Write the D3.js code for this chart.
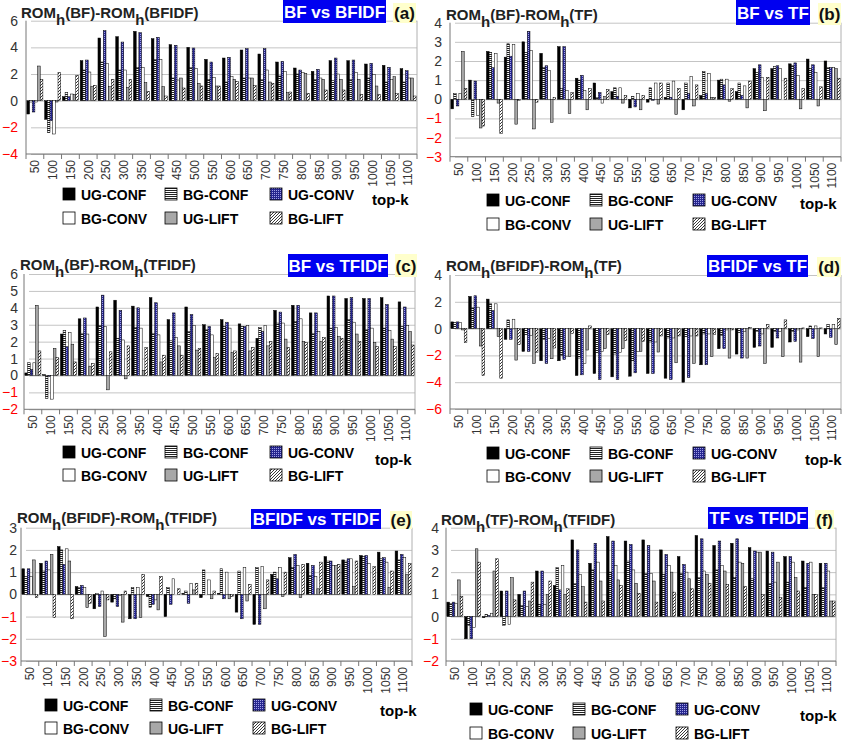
<!DOCTYPE html>
<html><head><meta charset="utf-8">
<script src="https://cdn.jsdelivr.net/npm/d3@7"></script>
<style>body{margin:0;background:#fff} svg{display:block} text{font-family:"Liberation Sans",Arial,sans-serif}</style>
</head><body><svg id="c" width="842" height="742"></svg>
<script>
const CATEGORIES = ["50","100","150","200","250","300","350","400","450","500","550","600","650","700","750","800","850","900","950","1000","1050","1100"];
const SERIES = ["UG-CONF","BG-CONF","UG-CONV","BG-CONV","UG-LIFT","BG-LIFT"];

// (a) ROMh(BF)-ROMh(BFIDF)
const A_UG_CONF = [-1.0,-1.4,0.3,3.0,4.7,4.8,5.2,4.65,4.2,4.0,3.1,3.2,3.8,3.5,2.9,2.45,2.2,3.0,3.0,2.75,2.65,2.4];
const A_BG_CONF = [-0.1,-2.4,0.6,2.3,2.9,2.3,2.5,3.1,1.7,2.5,1.6,1.4,1.7,1.6,1.85,2.0,1.6,1.5,1.6,1.7,1.4,1.4];
const A_UG_CONV = [-0.85,-1.5,0.3,3.05,5.25,4.4,5.1,4.75,4.15,3.95,2.9,3.25,3.9,3.9,2.95,2.3,2.35,3.2,3.05,2.8,2.5,2.25];
const A_BG_CONV = [-0.1,-2.5,0.5,2.15,2.8,2.3,2.5,3.1,1.55,2.4,1.75,1.8,1.7,2.3,2.2,2.1,1.7,2.0,2.1,1.95,1.6,1.7];
const A_UG_LIFT = [2.6,-0.1,0.45,1.05,1.05,1.0,1.35,1.05,1.7,1.3,1.1,1.6,1.7,1.4,0.6,2.05,1.6,1.6,1.6,1.1,1.8,1.7];
const A_BG_LIFT = [1.6,2.1,1.9,1.15,1.6,1.6,0.7,0.35,0.95,1.1,1.1,1.45,1.15,1.3,0.65,0.55,0.8,0.8,0.45,0.45,0.55,0.35];
const A_TICKS = [-4,-2,0,2,4,6];

// (b) ROMh(BF)-ROMh(TF)
const B_UG_CONF = [-0.5,1.0,2.5,2.2,3.0,2.4,2.75,1.1,0.85,0.4,-0.45,-0.15,0.1,-0.55,0.2,1.0,0.4,1.6,1.6,1.85,2.1,2.0];
const B_BG_CONF = [0.3,-0.9,2.45,2.9,2.45,1.65,0.55,1.0,0.1,0.6,0.15,0.6,0.85,0.85,1.45,1.05,0.85,1.4,1.7,1.75,1.6,1.65];
const B_UG_CONV = [-0.35,0.95,1.65,2.25,3.55,1.75,2.75,1.25,0.35,0.15,-0.4,-0.05,0.1,0.3,0.3,0.75,0.2,1.8,1.75,1.9,1.8,1.65];
const B_BG_CONV = [0.3,-0.85,2.4,2.85,2.55,1.5,0.45,0.45,-0.2,0.6,0.3,0.85,0.95,1.2,1.35,1.05,0.7,1.15,1.6,1.25,1.4,1.65];
const B_UG_LIFT = [2.5,-1.5,-0.2,-1.3,-1.55,-1.2,-0.75,-0.55,0.15,-0.2,-0.55,-0.25,-0.8,-0.35,0.1,-0.1,-0.45,-0.6,0.0,-0.5,-0.35,1.6];
const B_BG_LIFT = [0.55,-1.4,-1.8,-0.05,-0.15,0.1,0.35,0.55,0.5,0.2,0.2,0.85,0.55,0.75,0.1,0.55,0.95,1.15,1.1,0.55,0.65,1.1];
const B_TICKS = [-3,-2,-1,0,1,2,3,4];

// (c) ROMh(BF)-ROMh(TFIDF)
const C_UG_CONF = [0.15,0.05,2.45,3.35,4.05,4.45,4.1,4.6,3.3,4.05,3.0,3.3,3.05,2.2,3.85,4.15,3.7,4.7,4.55,4.55,4.6,4.35];
const C_BG_CONF = [0.75,-1.35,2.65,2.5,2.95,2.2,2.85,2.5,2.05,2.6,2.7,2.9,2.9,2.85,3.1,3.2,2.5,2.8,3.3,2.7,2.8,2.9];
const C_UG_CONV = [0.35,-0.05,1.7,3.4,4.75,3.85,4.0,4.3,3.7,3.6,2.9,3.15,2.9,2.6,3.75,4.15,3.7,4.7,4.6,4.55,4.2,4.05];
const C_BG_CONV = [0.75,-1.4,2.55,2.45,2.9,2.1,2.8,2.4,2.25,2.95,2.4,2.8,2.95,2.95,3.1,3.35,2.6,2.85,3.15,2.8,2.65,2.95];
const C_UG_LIFT = [4.15,1.6,1.85,0.55,-0.85,-0.2,0.3,0.8,1.75,1.5,1.05,1.35,1.45,1.75,2.15,2.0,2.0,2.3,2.45,1.95,2.15,2.6];
const C_BG_LIFT = [1.45,1.05,0.8,0.7,1.4,1.75,1.65,1.2,1.2,1.6,1.3,1.45,1.65,2.0,1.65,1.95,2.25,2.2,2.0,1.7,1.7,1.8];
const C_TICKS = [-2,-1,0,1,2,3,4,5,6];

// (d) ROMh(BFIDF)-ROMh(TF)
const D_UG_CONF = [0.5,2.4,2.2,-0.8,-1.7,-2.4,-2.4,-3.5,-3.35,-3.6,-3.55,-3.35,-3.7,-4.0,-2.7,-1.5,-1.9,-1.4,-1.4,-1.0,-0.6,-0.4];
const D_BG_CONF = [0.45,1.55,1.85,0.65,-0.45,-0.8,-2.0,-2.2,-1.8,-1.9,-2.4,-1.0,-0.7,-0.6,-0.4,-0.5,-0.3,-0.2,-0.2,-0.2,0.2,0.3];
const D_UG_CONV = [0.5,2.45,1.35,-0.8,-1.7,-2.6,-2.3,-3.45,-3.8,-3.8,-3.3,-3.35,-3.8,-3.65,-2.7,-1.5,-2.2,-1.3,-0.7,-0.95,-0.75,-0.65];
const D_BG_CONV = [0.45,1.6,1.85,0.7,-0.5,-0.75,-2.05,-2.6,-1.7,-1.8,-1.7,-1.0,-0.7,-0.55,-0.4,-0.1,-0.2,-0.4,-0.2,-0.1,0.2,0.3];
const D_UG_LIFT = [-0.1,-1.3,-0.6,-2.35,-2.6,-2.25,-2.1,-1.6,-1.5,-1.5,-1.7,-1.75,-2.55,-2.6,-2.1,-2.2,-2.2,-2.6,-2.1,-2.5,-2.1,-1.2];
const D_BG_LIFT = [-1.05,-3.5,-3.7,-1.2,-1.8,-1.45,-0.35,0.2,-0.45,-0.9,-0.95,-0.55,-0.55,-0.55,-0.45,-0.1,0.1,0.3,0.65,0.05,0.05,0.75];
const D_TICKS = [-6,-4,-2,0,2,4];

// (e) ROMh(BFIDF)-ROMh(TFIDF)
const E_UG_CONF = [1.15,1.4,2.15,0.35,-0.65,-0.35,-1.1,-0.1,-1.0,0.05,-0.15,0.05,-0.8,-1.35,0.9,1.65,1.4,1.7,1.55,1.75,1.9,1.95];
const E_BG_CONF = [0.8,1.05,2.0,0.3,0.05,-0.2,0.3,-0.6,0.3,0.15,1.1,1.15,1.05,1.2,1.0,1.2,0.85,1.5,1.5,1.7,1.6,1.55];
const E_UG_CONV = [1.15,1.5,1.35,0.4,-0.55,-0.55,-1.1,-0.45,-0.45,-0.4,0.0,-0.2,-1.1,-1.35,0.7,1.8,1.3,1.5,1.6,1.75,1.65,1.8];
const E_BG_CONV = [0.8,1.1,2.05,0.3,0.15,-0.05,0.3,-0.25,0.7,0.5,0.65,1.0,1.2,1.25,1.2,1.3,0.8,1.3,1.6,1.4,1.45,1.65];
const E_UG_LIFT = [1.55,1.8,1.5,-0.6,-1.9,-1.25,-1.05,-0.7,0.0,0.2,-0.2,-0.2,-0.3,-0.65,-0.1,-0.15,0.25,1.3,0.35,0.0,0.3,0.9];
const E_BG_LIFT = [-0.15,-1.05,-1.1,-0.4,-0.25,0.15,0.9,0.8,0.25,0.5,0.15,-0.1,0.45,0.65,1.0,1.35,1.45,1.35,1.5,1.25,1.05,1.4];
const E_TICKS = [-3,-2,-1,0,1,2,3];

// (f) ROMh(TF)-ROMh(TFIDF)
const F_UG_CONF = [0.65,-1.0,-0.05,1.15,1.0,2.05,1.4,3.45,2.4,3.6,3.4,3.45,3.0,2.7,3.65,3.2,3.3,3.1,2.95,2.7,2.5,2.4];
const F_BG_CONF = [0.6,-0.4,0.1,-0.4,0.5,0.55,2.2,1.5,2.1,2.0,2.5,1.95,1.9,1.95,1.75,2.1,1.75,1.7,1.5,1.55,1.3,1.3];
const F_UG_CONV = [0.65,-1.0,0.05,1.15,1.15,2.05,1.2,3.0,3.3,3.4,3.25,3.2,2.8,2.35,3.5,3.4,3.5,2.95,2.9,2.7,2.4,2.4];
const F_BG_CONV = [0.6,-0.5,0.15,-0.35,0.45,0.55,2.3,1.9,2.45,2.3,2.1,1.95,2.3,2.0,2.05,2.3,2.45,2.9,1.55,2.45,2.45,2.05];
const F_UG_LIFT = [1.65,3.05,2.05,1.75,0.7,1.0,1.0,1.35,1.6,1.65,1.5,1.6,2.0,1.7,1.9,2.05,2.4,2.9,2.45,1.75,1.0,0.7];
const F_BG_LIFT = [0.9,2.45,2.6,0.75,1.55,1.6,1.25,0.65,0.7,1.4,1.05,0.65,1.1,1.25,1.5,1.45,1.35,1.0,0.85,1.15,1.0,0.7];
const F_TICKS = [-2,-1,0,1,2,3,4];

const TITLES = [["BF","BFIDF"],["BF","TF"],["BF","TFIDF"],["BFIDF","TF"],["BFIDF","TFIDF"],["TF","TFIDF"]];
const LABELS = ["BF vs BFIDF","BF vs TF","BF vs TFIDF","BFIDF vs TF","BFIDF vs TFIDF","TF vs TFIDF"];
const TAGS = ["(a)","(b)","(c)","(d)","(e)","(f)"];

const PANEL_DATA = [
  [A_UG_CONF,A_BG_CONF,A_UG_CONV,A_BG_CONV,A_UG_LIFT,A_BG_LIFT],
  [B_UG_CONF,B_BG_CONF,B_UG_CONV,B_BG_CONV,B_UG_LIFT,B_BG_LIFT],
  [C_UG_CONF,C_BG_CONF,C_UG_CONV,C_BG_CONV,C_UG_LIFT,C_BG_LIFT],
  [D_UG_CONF,D_BG_CONF,D_UG_CONV,D_BG_CONV,D_UG_LIFT,D_BG_LIFT],
  [E_UG_CONF,E_BG_CONF,E_UG_CONV,E_BG_CONV,E_UG_LIFT,E_BG_LIFT],
  [F_UG_CONF,F_BG_CONF,F_UG_CONV,F_BG_CONV,F_UG_LIFT,F_BG_LIFT]
];
const PANEL_TICKS = [A_TICKS,B_TICKS,C_TICKS,D_TICKS,E_TICKS,F_TICKS];

// layout (positions only)
const LAYOUT = [
 {left:26,right:417,top:20.7,bottom:154,pad:8,titleX:21,titleY:18,box:[283,0,103,23],tag:[393,3,23,20],legX:[63,165,270],legY:[188,212],topk:[372,205]},
 {left:450,right:841,top:22.7,bottom:156.7,pad:8,titleX:446,titleY:20,box:[736,0,74,25],tag:[818,3,23,22],legX:[487,590,693],legY:[194,218],topk:[800,209]},
 {left:24,right:415,top:274,bottom:409.3,pad:6,titleX:20,titleY:270,box:[288,254,100,23],tag:[395,254,22,23],legX:[63,165,270],legY:[446,469],topk:[375,465]},
 {left:450,right:841,top:275,bottom:409,pad:8,titleX:446,titleY:271,box:[707,255,101,22],tag:[817,257,24,20],legX:[487,590,693],legY:[447,470],topk:[805,465]},
 {left:21,right:412,top:527.7,bottom:661,pad:4,titleX:17,titleY:523,box:[251,509,130,20],tag:[390,511,22,18],legX:[45,150,253],legY:[699,722],topk:[380,716]},
 {left:446,right:836,top:527.7,bottom:661,pad:7,titleX:441,titleY:525,box:[708,507,100,22],tag:[815,510,19,19],legX:[470,573,676],legY:[703,727],topk:[800,721]}
];

const svg = d3.select('#c');
const defs = svg.append('defs');
const pS = defs.append('pattern').attr('id','pStripe').attr('patternUnits','userSpaceOnUse').attr('width',4).attr('height',2);
pS.append('rect').attr('width',4).attr('height',2).attr('fill','#fff');
pS.append('rect').attr('width',4).attr('height',1).attr('fill','#222');
const pD = defs.append('pattern').attr('id','pDot').attr('patternUnits','userSpaceOnUse').attr('width',2).attr('height',2);
pD.append('rect').attr('width',2).attr('height',2).attr('fill','#26268f');
pD.append('rect').attr('width',1).attr('height',1).attr('fill','#a0a0e6');
const pH = defs.append('pattern').attr('id','pHatch').attr('patternUnits','userSpaceOnUse').attr('width',3).attr('height',3);
pH.append('rect').attr('width',3).attr('height',3).attr('fill','#fff');
pH.append('path').attr('d','M0,3L3,0M-1,1L1,-1M2,4L4,2').attr('stroke','#222').attr('stroke-width',0.9);

const FILLS = ['#000','url(#pStripe)','url(#pDot)','#fff','#a8a8a8','url(#pHatch)'];
const color = d3.scaleOrdinal().domain(SERIES).range(FILLS);

PANEL_DATA.forEach((series, pi) => {
  const L = LAYOUT[pi];
  const ticks = PANEL_TICKS[pi];
  const g = svg.append('g');
  const PAD = 0.1;
  const x = d3.scaleBand().domain(CATEGORIES).range([L.left, L.right]).paddingInner(PAD).paddingOuter(PAD/2);
  const xs = d3.scaleBand().domain(SERIES).range([0, x.bandwidth()]);
  const y = d3.scaleLinear().domain(d3.extent(ticks)).range([L.bottom, L.top]);

  // gridlines + y labels
  const ya = g.append('g').attr('transform',`translate(${L.left},0)`)
    .call(d3.axisLeft(y).tickValues(ticks).tickSize(-(L.right-L.left)).tickPadding(L.pad).tickFormat(d3.format('d')));
  ya.select('.domain').remove();
  ya.selectAll('.tick line').attr('stroke','#c4c4c4').attr('x1',5);
  ya.selectAll('.tick text').attr('font-size',14).attr('fill', d => d < 0 ? '#ff0000' : '#333');
  // right border, left axis
  g.append('line').attr('x1',L.right).attr('x2',L.right).attr('y1',L.top).attr('y2',L.bottom).attr('stroke','#b0b0b0');
  g.append('line').attr('x1',L.left).attr('x2',L.left).attr('y1',L.top).attr('y2',L.bottom).attr('stroke','#777');

  // bars
  SERIES.forEach((s, si) => {
    g.append('g').selectAll('rect').data(series[si]).join('rect')
      .attr('x', (v,i) => x(CATEGORIES[i]) + xs(s))
      .attr('width', xs.bandwidth())
      .attr('y', v => y(Math.max(0,v)))
      .attr('height', v => Math.abs(y(v) - y(0)))
      .attr('fill', color(s))
      .attr('stroke','#000').attr('stroke-width',0.5);
  });

  // bottom axis
  const step = x.step();
  g.append('line').attr('x1',L.left).attr('x2',L.right).attr('y1',L.bottom).attr('y2',L.bottom).attr('stroke','#777');
  g.append('g').selectAll('line').data(CATEGORIES.concat(['end'])).join('line')
    .attr('x1',(d,i)=>L.left + i*step).attr('x2',(d,i)=>L.left + i*step)
    .attr('y1',L.bottom).attr('y2',L.bottom+5).attr('stroke','#777');
  const xa = g.append('g').attr('transform',`translate(0,${L.bottom})`).call(d3.axisBottom(x).tickSize(0));
  xa.select('.domain').remove();
  xa.selectAll('.tick text').attr('font-size',12).attr('fill','#333')
    .attr('transform','rotate(-90)').attr('text-anchor','end').attr('x',-6).attr('y',0).attr('dy','0.36em');

  // title
  const t = g.append('text').attr('x',L.titleX).attr('y',L.titleY).attr('font-size',15).attr('font-weight','bold').attr('fill','#222');
  t.append('tspan').text('ROM');
  t.append('tspan').attr('dy',7).text('h');
  t.append('tspan').attr('dy',-7).text('(' + TITLES[pi][0] + ')-ROM');
  t.append('tspan').attr('dy',7).text('h');
  t.append('tspan').attr('dy',-7).text('(' + TITLES[pi][1] + ')');

  // label box
  const [bx,by,bw,bh] = L.box;
  g.append('rect').attr('x',bx).attr('y',by).attr('width',bw).attr('height',bh).attr('fill','#0000f0');
  g.append('text').attr('x',bx+bw/2).attr('y',by+bh/2).attr('dy','0.36em').attr('text-anchor','middle')
    .attr('font-size',17).attr('font-weight','bold').attr('fill','#fff').text(LABELS[pi]);
  const [tx,ty,tw,th] = L.tag;
  g.append('rect').attr('x',tx).attr('y',ty).attr('width',tw).attr('height',th).attr('fill','#ffffcc');
  g.append('text').attr('x',tx+tw/2).attr('y',ty+th/2).attr('dy','0.36em').attr('text-anchor','middle')
    .attr('font-size',17).attr('font-weight','bold').attr('fill','#111').text(TAGS[pi]);

  // legend
  SERIES.forEach((s, si) => {
    const lx = L.legX[si % 3], ly = L.legY[Math.floor(si/3)];
    g.append('rect').attr('x',lx).attr('y',ly).attr('width',12).attr('height',12)
      .attr('fill',color(s)).attr('stroke','#000').attr('stroke-width',0.8);
    g.append('text').attr('x',lx+18).attr('y',ly+11.5).attr('font-size',14).attr('font-weight','bold').attr('fill','#000').text(s);
  });
  g.append('text').attr('x',L.topk[0]).attr('y',L.topk[1]).attr('font-size',15).attr('font-weight','bold').attr('fill','#000').text('top-k');
});
</script></body></html>
